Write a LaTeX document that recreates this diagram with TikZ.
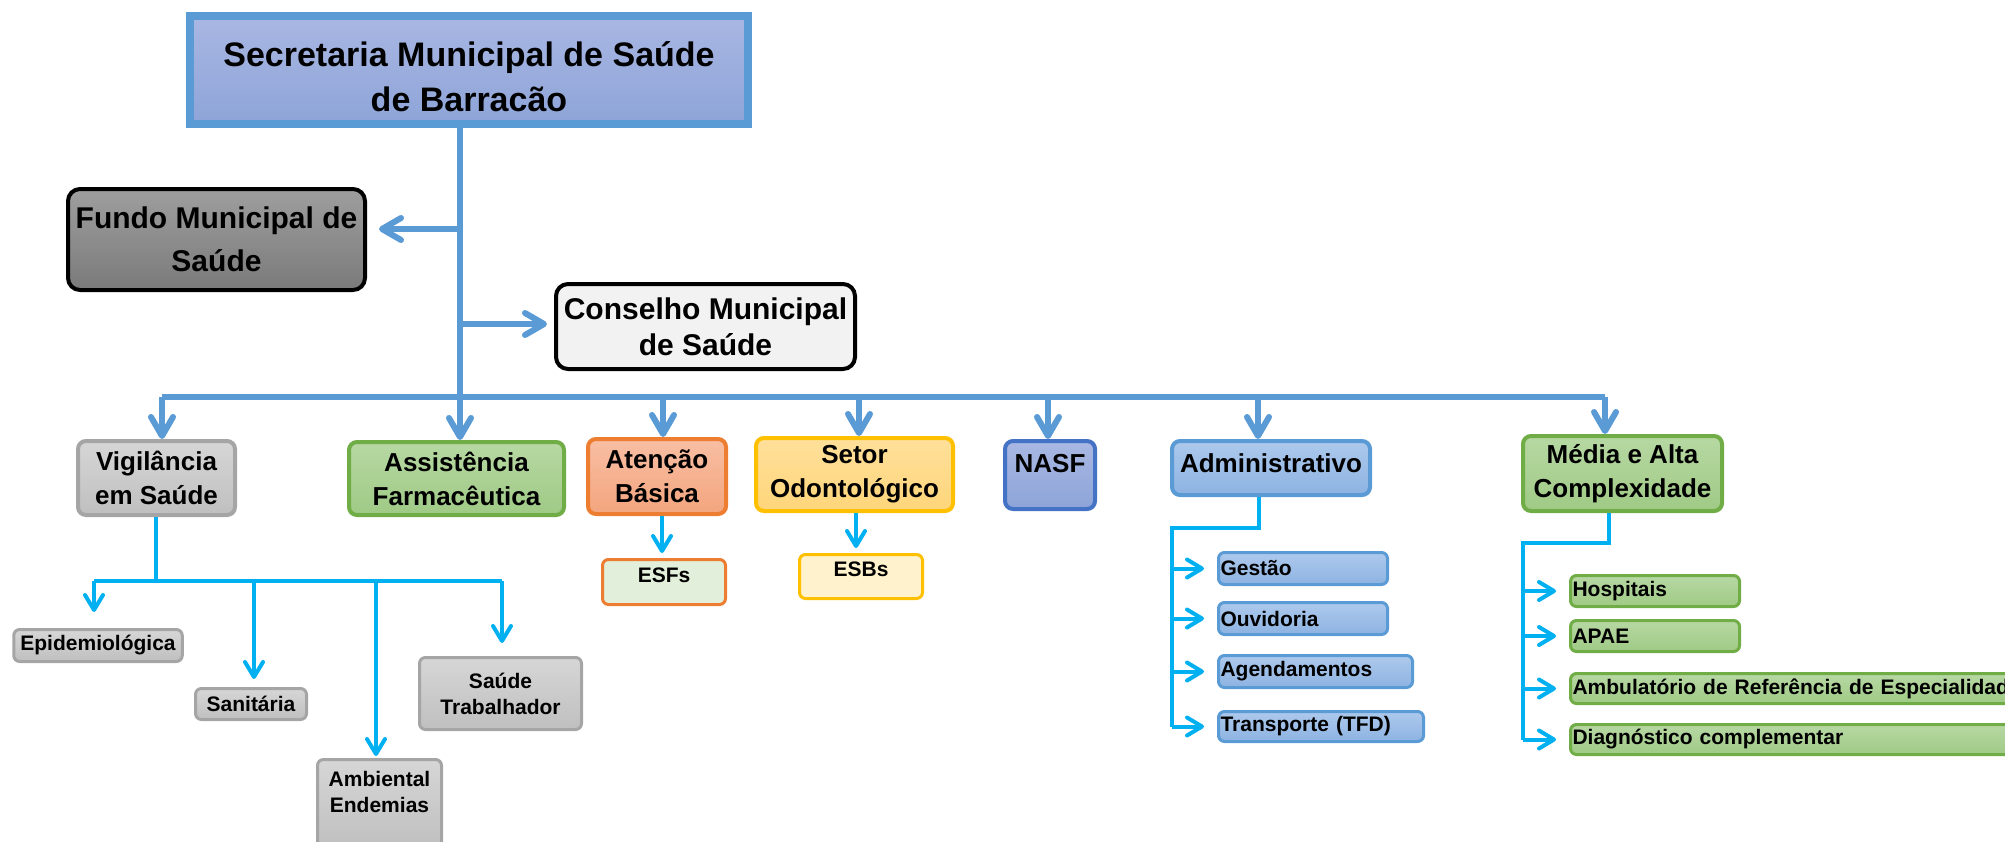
\documentclass[tikz,border=0pt]{standalone}
\usepackage{fontspec}
\setmainfont{Liberation Sans}
\usetikzlibrary{arrows.meta}
\definecolor{trunk}{HTML}{5B9BD5}
\definecolor{twig}{HTML}{00B0F0}
\definecolor{grayedge}{HTML}{A5A5A5}
\definecolor{greenedge}{HTML}{70AD47}
\definecolor{orangeedge}{HTML}{ED7D31}
\definecolor{goldedge}{HTML}{FFC000}
\definecolor{navyedge}{HTML}{4472C4}

\begin{document}
\begin{tikzpicture}[x=0.5pt,y=-0.5pt,
  bigfont/.style={font=\bfseries\fontsize{13}{17}\selectfont},
  smallfont/.style={font=\bfseries\fontsize{10.5}{13}\selectfont},
  dept/.style={rounded corners=4pt,line width=2pt,align=center,inner sep=0pt,bigfont},
  leaf/.style={rounded corners=3pt,line width=1.5pt,align=center,inner sep=0pt,smallfont},
  item/.style={leaf,align=left,inner xsep=1pt,text width=#1},
  lift/.style={text depth=#1},
  grayish/.style={draw=grayedge,top color=black!16,bottom color=black!25},
  greenish/.style={draw=greenedge,top color={rgb,255:red,183;green,216;blue,163},bottom color={rgb,255:red,159;green,202;blue,133}},
  orangish/.style={draw=orangeedge,top color={rgb,255:red,248;green,190;blue,163},bottom color={rgb,255:red,243;green,165;blue,126}},
  goldish/.style={draw=goldedge,top color={rgb,255:red,255;green,224;blue,154},bottom color={rgb,255:red,255;green,213;blue,122}},
  bluish/.style={draw=trunk,top color={rgb,255:red,173;green,201;blue,236},bottom color={rgb,255:red,141;green,179;blue,226}},
  trunkline/.style={trunk,line width=3pt},
  barrow/.style={trunkline,-{Straight Barb[length=9.5pt,width=11pt,round]}},
  twigline/.style={twig,line width=2pt},
  carrow/.style={twigline,-{Straight Barb[length=7.5pt,width=9pt,round]}}]
  \useasboundingbox (0,0) rectangle (2005,841);

  \node[draw=trunk,line width=4pt,top color={rgb,255:red,169;green,183;blue,227},bottom color={rgb,255:red,142;green,164;blue,216},
    align=center,inner sep=0pt,minimum width=279pt,minimum height=54pt,font=\bfseries\fontsize{17}{22.5}\selectfont]
    (sec) at (469,70) {\rule{0pt}{19pt}Secretaria Municipal de Saúde\\de Barracão};
  \node[dept,draw=black,top color=black!38,bottom color=black!52,rounded corners=6pt,minimum width=148.5pt,minimum height=50.5pt,
    font=\bfseries\fontsize{15}{21.5}\selectfont] (fundo) at (216.5,239.5) {Fundo Municipal de\\Saúde};
  \node[dept,draw=black,fill=black!5,rounded corners=6pt,minimum width=149.5pt,minimum height=42.5pt,
    font=\bfseries\fontsize{15}{18}\selectfont] (cons) at (705.5,326.5) {Conselho Municipal\\de Saúde};

  \node[dept,grayish,minimum width=78.5pt,minimum height=37pt] (vig) at (156.5,478) {Vigilância\\em Saúde};
  \node[dept,greenish,minimum width=107.5pt,minimum height=36.5pt] (farm) at (456.5,478.5) {Assistência\\Farmacêutica};
  \node[dept,orangish,minimum width=69pt,minimum height=37.5pt] (atb) at (657,476.5) {Atenção\\Básica};
  \node[dept,goldish,minimum width=98.5pt,minimum height=36.5pt] (odo) at (854.5,474.5) {Setor\\Odontológico};
  \node[dept,draw=navyedge,top color={rgb,255:red,169;green,184;blue,227},bottom color={rgb,255:red,141;green,164;blue,216},
    minimum width=45pt,minimum height=34pt,lift=12pt] (nasf) at (1050,475) {NASF};
  \node[dept,bluish,minimum width=99pt,minimum height=27pt,lift=4.5pt] (adm) at (1271,468) {Administrativo};
  \node[dept,greenish,minimum width=99.5pt,minimum height=37.5pt] (mac) at (1622.5,473.5) {Média e Alta\\Complexidade};

  \node[leaf,draw=orangeedge,fill={rgb,255:red,226;green,239;blue,218},minimum width=61.5pt,minimum height=22.5pt,lift=7pt] (esf) at (664,582) {ESFs};
  \node[leaf,draw=goldedge,fill={rgb,255:red,255;green,242;blue,204},minimum width=61.5pt,minimum height=22pt,lift=7pt] (esb) at (861,576.5) {ESBs};

  \node[leaf,grayish,minimum width=84.25pt,minimum height=16pt] (epi) at (98,645.5) {Epidemiológica};
  \node[leaf,grayish,minimum width=55.5pt,minimum height=15.5pt] (san) at (251,704) {Sanitária};
  \node[leaf,grayish,minimum width=62pt,minimum height=44.5pt,lift=12pt] (amb) at (379.5,804) {Ambiental\\Endemias};
  \node[leaf,grayish,minimum width=81pt,minimum height=36pt] (sat) at (500.5,693.5) {Saúde\\Trabalhador};

  \node[item=82.5pt,bluish,minimum height=16pt] (ges) at (1303,568.5) {Gestão};
  \node[item=82.5pt,bluish,minimum height=16pt] (ouv) at (1303,618.5) {Ouvidoria};
  \node[item=95pt,bluish,minimum height=16pt] (age) at (1315.5,671.5) {Agendamentos};
  \node[item=100.5pt,bluish,minimum height=15pt] (tfd) at (1321,726.5) {Transporte (TFD)};

  \node[item=82.5pt,greenish,minimum height=15.5pt] (hos) at (1655,591) {Hospitais};
  \node[item=82.5pt,greenish,minimum height=15.5pt] (apa) at (1655,636) {APAE};
  \node[item=232pt,greenish,minimum height=15pt] (amr) at (1804.5,688.5) {Ambulatório de Referência de Especialidades};
  \node[item=232pt,greenish,minimum height=15pt] (dia) at (1804.5,739.5) {Diagnóstico complementar};

  \coordinate (tf) at (460,229);
  \coordinate (tc) at (460,324);
  \foreach \x [count=\i] in {162,460,663,859,1048,1258,1605}
    \coordinate (b\i) at (\x,397);
  \draw[trunkline] (sec.south -| b2) -- (b2);
  \draw[trunkline] (b1) -- (b7);
  \draw[barrow] (tf) -- ([xshift=6pt]fundo.east |- tf);
  \draw[barrow] (tc) -- ([xshift=-3.5pt]cons.west |- tc);
  \foreach \i/\n in {1/vig,2/farm,3/atb,4/odo,5/nasf,6/adm,7/mac}
    \draw[barrow] (b\i) -- (b\i |- \n.north);

  \coordinate (e1) at (662,0);
  \coordinate (e2) at (856,0);
  \draw[carrow,shorten >=2.5pt] (atb.south -| e1) -- (esf.north -| e1);
  \draw[carrow,shorten >=2.5pt] (odo.south -| e2) -- (esb.north -| e2);

  \coordinate (v0) at (156,581);
  \foreach \x [count=\i] in {94,254,376,502}
    \coordinate (v\i) at (\x,581);
  \draw[twigline] (vig.south -| v0) -- (v0);
  \draw[twigline] (v1) -- (v4);
  \draw[carrow,shorten >=8pt] (v1) -- (v1 |- epi.north);
  \draw[carrow,shorten >=4pt] (v2) -- (v2 |- san.north);
  \draw[carrow,shorten >=1pt] (v3) -- (v3 |- amb.north);
  \draw[carrow,shorten >=6.5pt] (v4) -- (v4 |- sat.north);

  \coordinate (a0) at (1259,528);
  \coordinate (a1) at (1172,528);
  \draw[twigline] (adm.south -| a0) -- (a0) -- (a1) -- (a1 |- tfd.west);
  \foreach \n in {ges,ouv,age,tfd}
    \draw[carrow,shorten >=6.5pt] (a1 |- \n.west) -- (\n.west);

  \coordinate (m0) at (1609,543);
  \coordinate (m1) at (1523,543);
  \draw[twigline] (mac.south -| m0) -- (m0) -- (m1) -- (m1 |- dia.west);
  \foreach \n in {hos,apa,amr,dia}
    \draw[carrow,shorten >=6.5pt] (m1 |- \n.west) -- (\n.west);
\end{tikzpicture}
\end{document}
